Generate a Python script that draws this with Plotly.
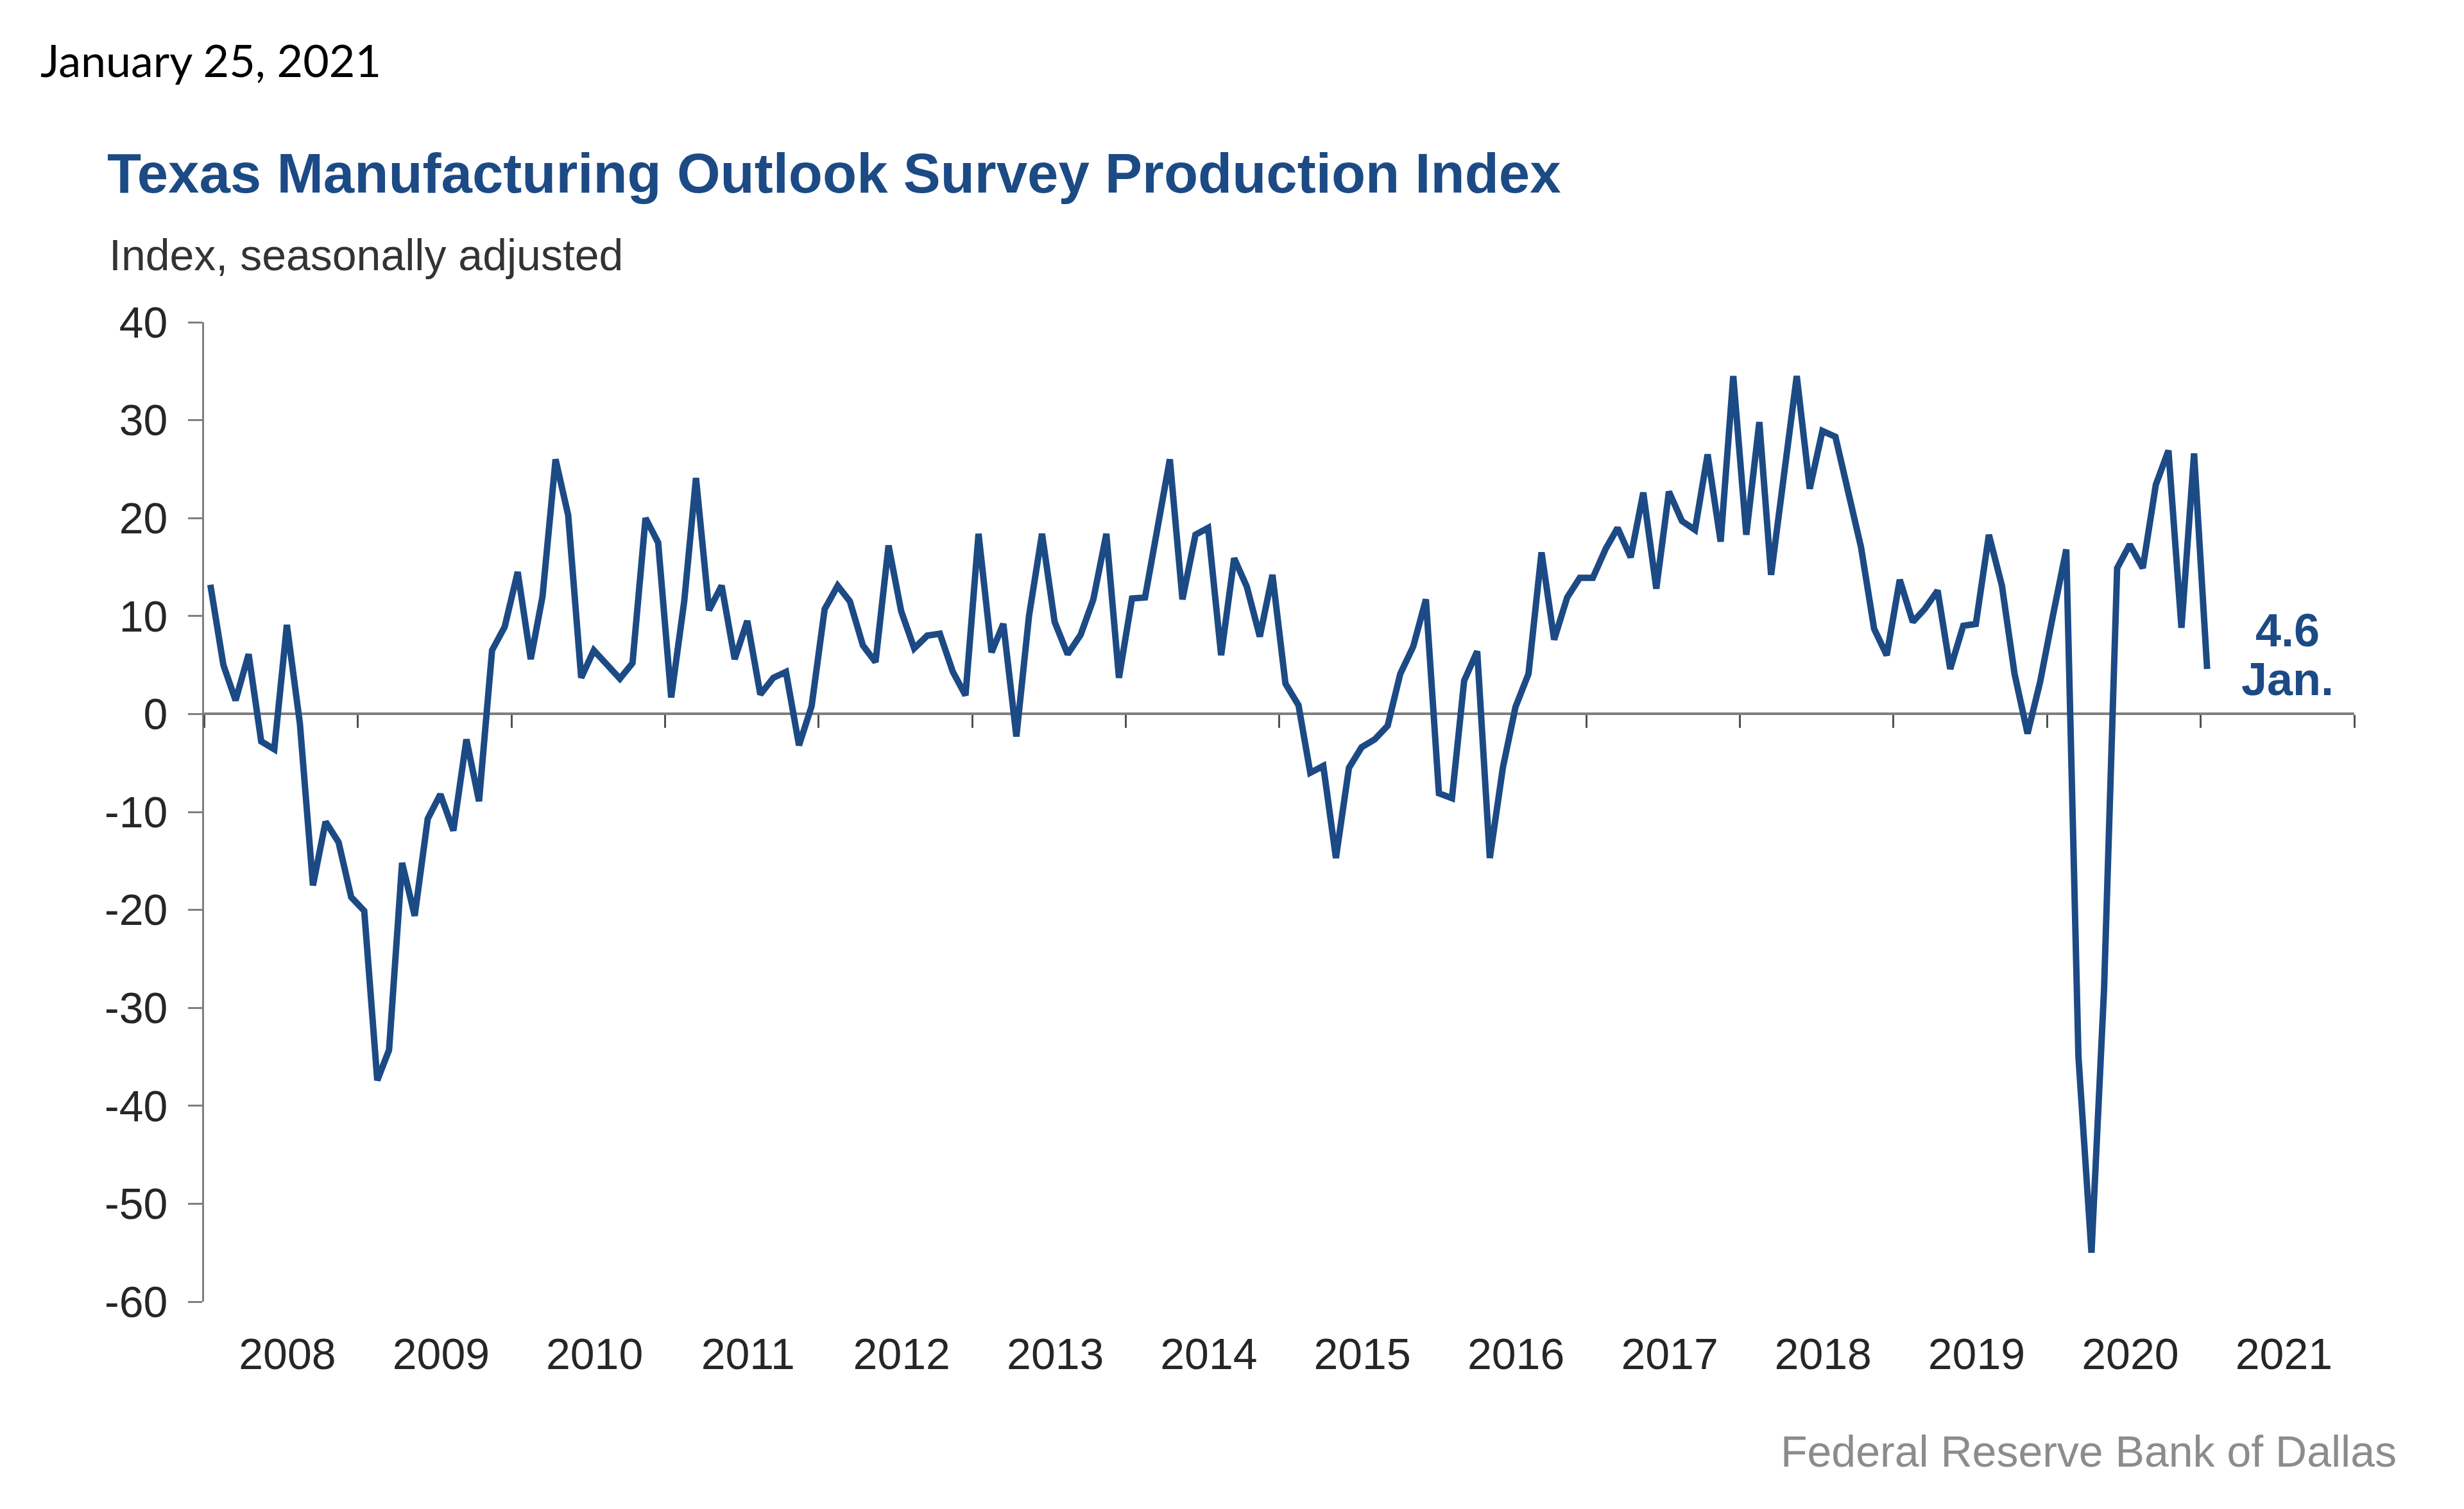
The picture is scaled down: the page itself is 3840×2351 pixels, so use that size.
import pandas as pd
import plotly.graph_objects as go

# ---------------- data ----------------
start_month = "2008-01-01"
production_index = [
    # 2008
    13.2, 5.0, 1.4, 6.1, -2.8, -3.6, 9.1, -1.0, -17.5, -11.0, -13.1, -18.7,
    # 2009
    -20.1, -37.4, -34.3, -15.2, -20.6, -10.7, -8.2, -11.9, -2.6, -8.9, 6.5, 8.9,
    # 2010
    14.5, 5.6, 12.0, 26.0, 20.3, 3.7, 6.5, 5.0, 3.6, 5.2, 20.0, 17.5,
    # 2011
    1.7, 11.5, 24.1, 10.6, 13.1, 5.6, 9.5, 2.0, 3.7, 4.3, -3.2, 0.8,
    # 2012
    10.7, 13.1, 11.5, 7.0, 5.3, 17.2, 10.5, 6.7, 8.0, 8.2, 4.3, 1.9,
    # 2013
    18.4, 6.3, 9.2, -2.3, 10.0, 18.4, 9.4, 6.1, 8.1, 11.7, 18.4, 3.7,
    # 2014
    11.8, 11.9, 18.5, 26.0, 11.7, 18.3, 19.0, 6.0, 15.9, 13.0, 7.9, 14.2,
    # 2015
    3.1, 0.9, -6.0, -5.3, -14.7, -5.5, -3.4, -2.6, -1.2, 4.1, 6.9, 11.7,
    # 2016
    -8.1, -8.6, 3.4, 6.4, -14.7, -5.5, 0.7, 4.1, 16.5, 7.6, 11.9, 13.9,
    # 2017
    13.9, 16.9, 19.0, 16.0, 22.6, 12.8, 22.7, 19.7, 18.8, 26.5, 17.6, 34.5,
    # 2018
    18.3, 29.8, 14.2, 24.4, 34.5, 23.0, 28.9, 28.3, 22.5, 17.0, 8.7, 6.0,
    # 2019
    13.7, 9.4, 10.7, 12.6, 4.6, 9.0, 9.2, 18.3, 13.1, 4.1, -2.0, 3.3,
    # 2020
    10.2, 16.8, -35.0, -55.0, -28.0, 14.9, 17.3, 14.9, 23.4, 26.9, 8.8, 26.6,
    # 2021
    4.6,
]
y_ticks = [40, 30, 20, 10, 0, -10, -20, -30, -40, -50, -60]
y_tick_labels = [str(v) for v in y_ticks]
x_range = ["2008-01-01", "2022-01-01"]
latest_label = "Jan."

date_text = "January 25, 2021"
title_text = "Texas Manufacturing Outlook Survey Production Index"
subtitle_text = "Index, seasonally adjusted"
source_text = "Federal Reserve Bank of Dallas"

# ---------------- styling ----------------
W, H = 3840, 2351
ML, MR, MT, MB = 318, 171, 502, 323
PW, PH = W - ML - MR, H - MT - MB

BLUE = "#1C4A85"
AXIS_GRAY = "#7F7F7F"
TICK_GRAY = "#505050"
TEXT_DARK = "#262626"
FONT = "Liberation Sans, Arial, sans-serif"


def px_x(px):
    return (px - ML) / PW


def px_y(py):
    return (H - MB - py) / PH


months = pd.date_range(start=start_month, periods=len(production_index), freq="MS")
mid_months = months + pd.Timedelta(days=15)

ymin, ymax = min(y_ticks), max(y_ticks)
zero_pos = (0 - ymin) / (ymax - ymin)

fig = go.Figure()
# invisible copy on the label axis so that the bottom year labels are drawn
fig.add_trace(
    go.Scatter(
        x=mid_months, y=production_index, mode="lines",
        line=dict(color=BLUE, width=1), opacity=0,
        xaxis="x", yaxis="y", hoverinfo="skip", showlegend=False,
    )
)
# the visible series, on the axis that runs along y = 0
fig.add_trace(
    go.Scatter(
        x=mid_months, y=production_index, mode="lines",
        line=dict(color=BLUE, width=10),
        xaxis="x2", yaxis="y", hoverinfo="x+y", showlegend=False,
    )
)

fig.update_layout(
    width=W,
    height=H,
    margin=dict(l=ML, r=MR, t=MT, b=MB),
    paper_bgcolor="white",
    plot_bgcolor="white",
    font=dict(family=FONT, color=TEXT_DARK, size=68),
    xaxis=dict(
        type="date",
        range=x_range,
        tick0=x_range[0],
        dtick="M12",
        tickformat="%Y",
        ticklabelmode="period",
        ticks="",
        showline=False,
        showgrid=False,
        zeroline=False,
        tickfont=dict(family=FONT, size=68, color=TEXT_DARK),
        ticklabelstandoff=36,
        ticklabelshift=10,
        fixedrange=True,
    ),
    xaxis2=dict(
        type="date",
        overlaying="x",
        anchor="free",
        position=zero_pos,
        side="bottom",
        range=x_range,
        tick0=x_range[0],
        dtick="M12",
        ticks="outside",
        ticklen=20,
        tickwidth=3,
        tickcolor=TICK_GRAY,
        showticklabels=False,
        showline=True,
        linecolor=AXIS_GRAY,
        linewidth=4,
        showgrid=False,
        zeroline=False,
        layer="below traces",
        fixedrange=True,
    ),
    yaxis=dict(
        range=[ymin, ymax],
        tickvals=y_ticks,
        ticktext=y_tick_labels,
        ticks="outside",
        ticklen=22,
        tickwidth=3,
        tickcolor=AXIS_GRAY,
        showline=True,
        linecolor=AXIS_GRAY,
        linewidth=3,
        showgrid=False,
        zeroline=False,
        tickfont=dict(family=FONT, size=68, color=TEXT_DARK),
        ticklabelstandoff=18,
        layer="below traces",
        fixedrange=True,
    ),
)

annotations = [
    dict(text=date_text, x=px_x(61), y=px_y(93), xanchor="left", yanchor="middle",
         font=dict(family="Lato, sans-serif", size=70, color="black")),
    dict(text=f"<b>{title_text}</b>", x=px_x(165), y=px_y(269), xanchor="left", yanchor="middle",
         font=dict(family=FONT, size=87, color=BLUE)),
    dict(text=subtitle_text, x=px_x(168), y=px_y(397), xanchor="left", yanchor="middle",
         font=dict(family=FONT, size=68, color="#333333")),
    dict(text=source_text, x=px_x(3737), y=px_y(2261), xanchor="right", yanchor="middle",
         font=dict(family=FONT, size=68, color="#8C8C8C")),
]
for a in annotations:
    a.update(xref="paper", yref="paper", showarrow=False)

# latest value label anchored to the last data point
last_x, last_y = mid_months[-1], production_index[-1]
fig.add_annotation(x=last_x, y=last_y, xref="x", yref="y", text=f"<b>{last_y}</b>",
                   showarrow=False, xanchor="center", yanchor="middle",
                   xshift=125, yshift=60, font=dict(family=FONT, size=72, color=BLUE))
fig.add_annotation(x=last_x, y=last_y, xref="x", yref="y", text=f"<b>{latest_label}</b>",
                   showarrow=False, xanchor="center", yanchor="middle",
                   xshift=125, yshift=-16, font=dict(family=FONT, size=72, color=BLUE))
for a in annotations:
    fig.add_annotation(**a)

fig.write_html("out.html")
